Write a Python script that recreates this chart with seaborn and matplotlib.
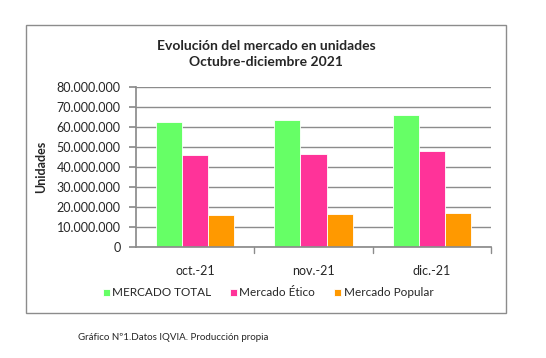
import pandas as pd
import matplotlib.pyplot as plt
import seaborn as sns
from matplotlib.patches import Rectangle
from matplotlib.ticker import FuncFormatter

months = ["oct.-21", "nov.-21", "dic.-21"]
series = ["MERCADO TOTAL", "Mercado Ético", "Mercado Popular"]
total = [62500000, 63500000, 66200000]
etico = [45900000, 46500000, 48000000]
popular = [16000000, 16500000, 17200000]
colors = ["#66FF66", "#FF3399", "#FF9900"]

df = pd.DataFrame({
    "mes": months * 3,
    "serie": [s for s in series for _ in months],
    "unidades": total + etico + popular,
})

sns.set_theme(style="white")
plt.rcParams["font.family"] = ["Lato", "DejaVu Sans"]

fig = plt.figure(figsize=(5.46, 3.58), dpi=100)
ax = fig.add_axes([136 / 546, 1 - 247 / 358, 355 / 546, 160 / 358])

# outer chart frame
fig.patches.append(Rectangle((26 / 546, 1 - 313 / 358), 480 / 546, 288 / 358,
                             transform=fig.transFigure, fill=False,
                             edgecolor="#8c8c8c", linewidth=1.0))

sns.barplot(data=df, x="mes", y="unidades", hue="serie", palette=colors,
            saturation=1, width=0.66, gap=0.0, ax=ax, edgecolor="white",
            linewidth=0.6, legend=True)

ax.set_ylim(0, 80000000)
ax.set_yticks(range(0, 80000001, 10000000))
ax.yaxis.set_major_formatter(FuncFormatter(lambda v, p: f"{int(v):,}".replace(",", ".")))
ax.yaxis.grid(True, color="#8c8c8c", linewidth=1.0)
ax.set_axisbelow(True)
ax.set_xlim(-0.5, 2.5)
for side in ["top", "right"]:
    ax.spines[side].set_visible(False)
for side in ["left", "bottom"]:
    ax.spines[side].set_color("#8c8c8c")
ax.tick_params(axis="y", left=True, length=5, color="#8c8c8c", labelsize=9, pad=6)
ax.tick_params(axis="x", bottom=False, labelsize=9, pad=7)
for xb in [0.5, 1.5, 2.5]:
    ax.plot([xb, xb], [0, -0.035], transform=ax.get_xaxis_transform(),
            color="#8c8c8c", linewidth=1.0, clip_on=False)

ax.set_xlabel("")
ax.set_ylabel("Unidades", fontsize=9, fontweight="bold", labelpad=7)

fig.text(266 / 546, 1 - 54 / 358, "Evolución del mercado en unidades\nOctubre-diciembre 2021",
         ha="center", va="center", fontsize=10, fontweight="bold", linespacing=1.35)

handles, labels = ax.get_legend_handles_labels()
ax.legend(handles, labels, loc="center", bbox_to_anchor=(268 / 546, 1 - 293 / 358),
          bbox_transform=fig.transFigure, ncol=3, frameon=False, fontsize=8.5,
          handlelength=0.6, handleheight=0.6, handletextpad=0.2, columnspacing=1.6)

fig.text(78 / 546, 1 - 338 / 358, "Gráfico Nº1.Datos IQVIA. Producción propia",
         ha="left", va="center", fontsize=7)

fig.savefig("out.png", dpi=100, facecolor="white")
